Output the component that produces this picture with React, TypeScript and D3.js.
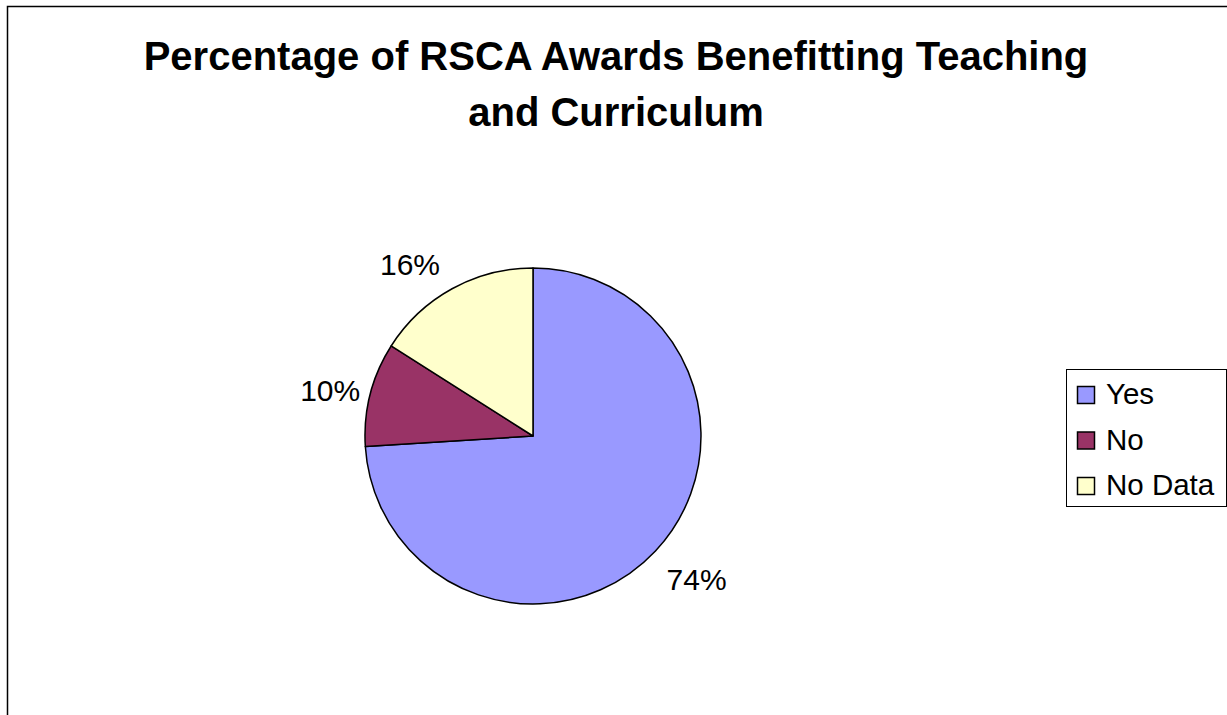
import React from "react";
import * as d3 from "d3";

const categories = ["Yes", "No", "No Data"];
const values = [74, 10, 16];
const colors = ["#9999FF", "#993366", "#FFFFCC"];
const titleLines = ["Percentage of RSCA Awards Benefitting Teaching", "and Curriculum"];

const W = 1227;
const H = 715;
const cx = 533;
const cy = 436;
const R = 168;
const FONT = "Arial, 'Liberation Sans', sans-serif";

export default function App() {
  const pie = d3.pie<number>().sort(null).value((d) => d)(values);
  const arc = d3.arc<d3.PieArcDatum<number>>().innerRadius(0).outerRadius(R);
  const total = d3.sum(values);
  const labelFs = 30;
  const labelR = R - 4;

  const legendX = 1066;
  const legendY = 369;
  const legendW = 160;
  const legendH = 137;
  const rowY = d3.scalePoint<string>().domain(categories).range([404, 495]);

  return (
    <svg
      width={W}
      height={H}
      style={{ position: "absolute", left: 0, top: 0, background: "#fff" }}
    >
      <rect x={0} y={0} width={W} height={H} fill="#fff" />
      <rect x={7.5} y={6.5} width={W + 20} height={H + 20} fill="none" stroke="#000" strokeWidth={1.5} />
      {titleLines.map((t, i) => (
        <text
          key={i}
          x={616}
          y={70 + i * 56}
          textAnchor="middle"
          fontFamily={FONT}
          fontWeight="bold"
          fontSize={40}
          fill="#000"
        >
          {t}
        </text>
      ))}
      <g transform={`translate(${cx},${cy})`}>
        {pie.map((p, i) => (
          <path key={i} d={arc(p) || ""} fill={colors[i]} stroke="#000" strokeWidth={1.5} strokeLinejoin="round" />
        ))}
        {pie.map((p, i) => {
          const mid = (p.startAngle + p.endAngle) / 2;
          const dx = Math.sin(mid);
          const dy = -Math.cos(mid);
          const label = `${Math.round((p.value / total) * 100)}%`;
          const px = dx * labelR + Math.sign(dx) * 44;
          const py = dy * labelR + dy * 38;
          return (
            <text
              key={"l" + i}
              x={px}
              y={py + labelFs * 0.52}
              textAnchor="middle"
              fontFamily={FONT}
              fontSize={labelFs}
              fill="#000"
            >
              {label}
            </text>
          );
        })}
      </g>
      <rect x={legendX + 0.5} y={legendY + 0.5} width={legendW} height={legendH} fill="#fff" stroke="#000" strokeWidth={1} />
      {categories.map((c, i) => {
        const by = rowY(c) as number;
        return (
          <g key={c}>
            <rect x={1077.5} y={by - 17.5} width={17} height={17} fill={colors[i]} stroke="#000" strokeWidth={1.5} />
            <text x={1106} y={by} fontFamily={FONT} fontSize={29.5} fill="#000">
              {c}
            </text>
          </g>
        );
      })}
    </svg>
  );
}
